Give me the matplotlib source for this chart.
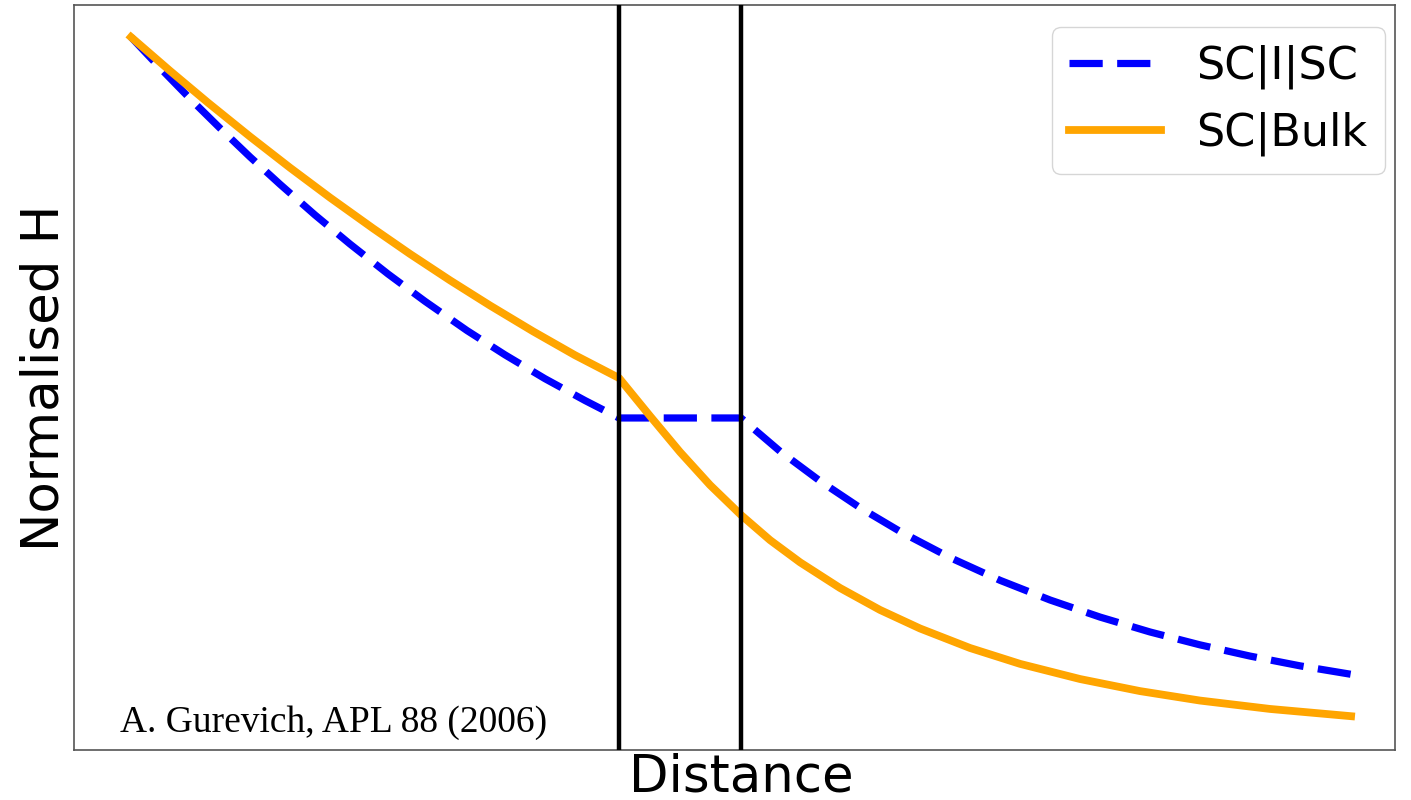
import matplotlib
matplotlib.use("Agg")
import matplotlib.pyplot as plt

# Distance (arbitrary units) and normalised field values
x_sis_left = [0.000, 0.238, 0.484, 0.730, 0.975, 1.221, 1.508, 1.795, 2.107, 2.410, 2.754, 3.066, 3.393, 3.721, 4.0]
h_sis_left = [1.000, 0.9596, 0.9193, 0.8805, 0.8430, 0.8071, 0.7668, 0.7287, 0.6894, 0.6536, 0.6153, 0.5834, 0.5522, 0.5236, 0.5007]

x_ins = [4.0, 5.0]
h_sis_ins = [0.5007, 0.5007]

x_sis_right = [5.0, 5.320, 5.648, 5.975, 6.303, 6.713, 7.123, 7.533, 7.943, 8.352, 8.762, 9.172, 9.582, 10.0]
h_sis_right = [0.5007, 0.4570, 0.4180, 0.3831, 0.3520, 0.3177, 0.2879, 0.2621, 0.2397, 0.2202, 0.2033, 0.1886, 0.1758, 0.1647]

x_bulk = [0.000, 0.320, 0.631, 0.975, 1.303, 1.631, 1.984, 2.287, 2.615, 2.943, 3.295, 3.639, 4.0,
          4.254, 4.500, 4.746, 5.0,
          5.238, 5.484, 5.811, 6.139, 6.467, 6.877, 7.287, 7.779, 8.270, 8.762, 9.336, 10.0]
h_bulk = [1.000, 0.9557, 0.9140, 0.8696, 0.8288, 0.7896, 0.7492, 0.7157, 0.6811, 0.6481, 0.6143, 0.5830, 0.5531,
          0.5033, 0.4561, 0.4128, 0.3735,
          0.3406, 0.3115, 0.2779, 0.2491, 0.2248, 0.1992, 0.1784, 0.1585, 0.1427, 0.1303, 0.1193, 0.1098]

walls = [4.0, 5.0]
labels = ["SC|I|SC", "SC|Bulk"]
citation = "A. Gurevich, APL 88 (2006)"

x_sis = x_sis_left + x_ins[1:] + x_sis_right[1:]
h_sis = h_sis_left + h_sis_ins[1:] + h_sis_right[1:]

fig = plt.figure(figsize=(14.11, 8.0), dpi=100)
ax = fig.add_axes([74 / 1411, 1 - 750 / 800, 1321 / 1411, 745 / 800])

for w in walls:
    ax.axvline(w, color="black", lw=3.2, zorder=3)

ax.plot(x_sis, h_sis, color="blue", lw=5.2, dashes=(4.6, 2.0), label=labels[0], zorder=2)
ax.plot(x_bulk, h_bulk, color="orange", lw=5.6, label=labels[1], zorder=2)

ax.set_xlim(-0.467, 10.36)
ax.set_ylim(0.0655, 1.042)
ax.set_xticks([])
ax.set_yticks([])
for s in ax.spines.values():
    s.set_color("#555555")
    s.set_linewidth(1.2)

ax.set_xlabel("Distance", fontsize=37)
ax.xaxis.set_label_coords(0.505, -0.004)
ax.set_ylabel("Normalised H", fontsize=37, labelpad=3)

leg = ax.legend(loc="upper right", bbox_to_anchor=((1385 - 74) / 1321, (750 - 27) / 745),
                borderaxespad=0, fontsize=32, handlelength=2.05, handletextpad=0.8,
                labelspacing=0.5, borderpad=0.4,
                frameon=True, fancybox=True, framealpha=0.8, edgecolor="#cccccc")

ax.text((120 - 74) / 1321, (750 - 732) / 745, citation, transform=ax.transAxes,
        fontsize=27, family="Liberation Serif", ha="left", va="baseline")

fig.savefig("out.png", dpi=100)
